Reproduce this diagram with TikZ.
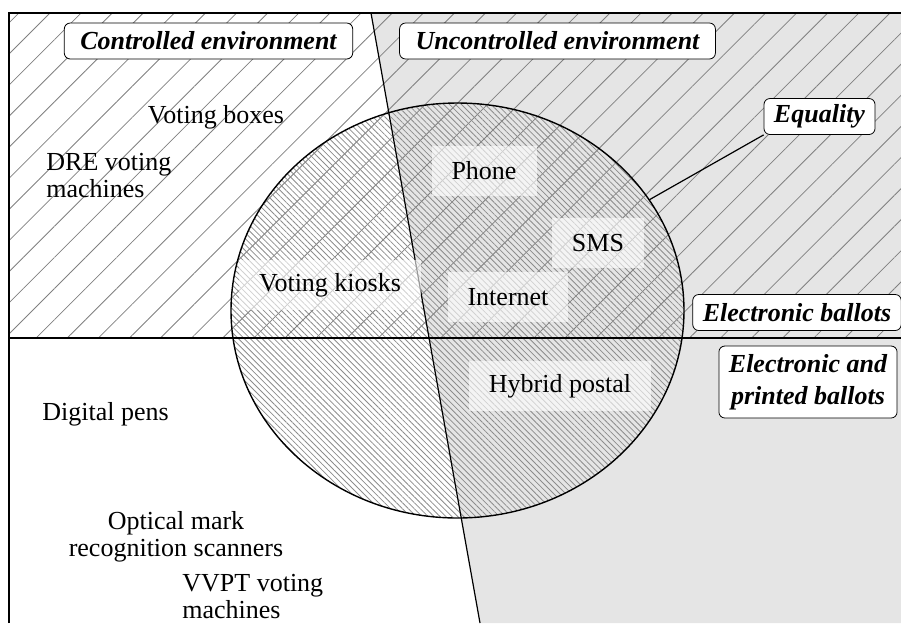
\documentclass[tikz,border=0pt]{standalone}
\usepackage{fontspec}
\setmainfont{Liberation Serif}
\usetikzlibrary{shapes.geometric,patterns.meta}

\tikzset{
  uncfill/.style={fill=gray!20},
  sparse/.style={pattern={Lines[angle=45, distance=11pt, line width=0.4pt]}, pattern color=gray},
  dense/.style={pattern={Lines[angle=-45, distance=2.1pt, line width=0.4pt]}, pattern color=gray!90},
  envlabel/.style={draw, rounded corners=3pt, fill=white,
    font=\fontsize{13}{16}\selectfont\bfseries\itshape,
    inner xsep=5pt, inner ysep=0pt, minimum height=18pt, align=center},
  tech/.style={fill=white, fill opacity=0.6, text opacity=1, inner xsep=10pt,
    inner ysep=0pt, minimum height=25pt},
  plain/.style={inner sep=0pt}
}

\begin{document}
\begin{tikzpicture}[x=0.5pt, y=-0.5pt, font=\fontsize{13}{13.5}\selectfont]
    \useasboundingbox (0,0) rectangle (901,623);
    \clip (0,0) rectangle (901,623);

    % Region corners
    \coordinate (tl) at (9,13);
    \coordinate (tr) at (901,13);
    \coordinate (ml) at (9,338);
    \coordinate (mr) at (901,338);
    \coordinate (bl) at (9,623);
    \coordinate (br) at (901,623);
    \coordinate (dtop) at (371,13);
    \coordinate (dbot) at (480,623);

    % Uncontrolled environment
    \fill[uncfill] (dtop) -- (tr) -- (br) -- (dbot) -- cycle;

    % Electronic ballots
    \fill[sparse] (tl) -- (tr) -- (mr) -- (ml) -- cycle;

    % Equality circle
    \node[ellipse, draw, line width=0.7pt, dense, inner sep=0pt,
      minimum width=226.5pt, minimum height=207.5pt] (equal) at (457.5,310.5) {};

    % Borders
    \draw[line width=0.6pt] (bl) -- (tl) -- (tr);
    \draw[line width=0.6pt] (ml) -- (mr);
    \draw[line width=0.6pt] (dtop) -- (dbot);

    % Techniques inside the circle
    \foreach \n/\x/\y/\t in {phone/484/171/Phone, sms/598/243/SMS,
        kiosks/330/285/Voting kiosks, internet/508/297/Internet,
        hybrid/560/386/Hybrid postal}
      \node[tech] (\n) at (\x,\y) {\t};

    % Techniques outside the circle
    \node[plain] (boxes) at (216,117) {Voting boxes};
    \node[plain, align=left, anchor=west] (dre) at (46,176) {DRE voting\\machines};
    \node[plain, anchor=west] (pens) at (42,414) {Digital pens};
    \node[plain, align=center] (omr) at (176,537) {Optical mark\\recognition scanners};
    \node[plain, align=left, anchor=west] (vvpt) at (182,597) {VVPT voting\\machines};

    % Environment and ballot labels
    \node[envlabel, inner xsep=8pt] (ctrl) at (208.5,41) {Controlled environment};
    \node[envlabel, inner xsep=8pt] (unctrl) at (557.5,41) {Uncontrolled environment};
    \node[envlabel] (eq) at (819.5,116.5) {Equality};
    \node[envlabel] (eball) at (797,312.5) {Electronic ballots};
    \node[envlabel, minimum height=36pt] (epball) at (808,382) {Electronic and\\printed ballots};

    \draw[line width=0.6pt] (equal.30) -- (eq.south west);
\end{tikzpicture}
\end{document}
